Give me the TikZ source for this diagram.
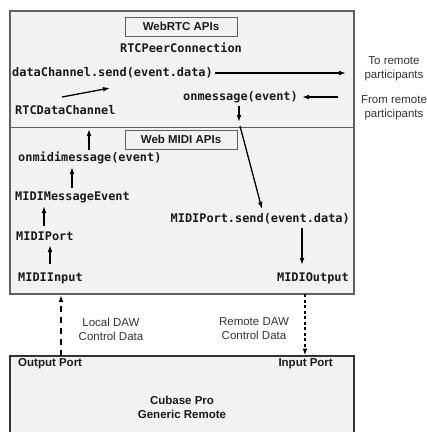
\documentclass[tikz,border=0pt]{standalone}
\usepackage{fontspec}
\setmainfont{Liberation Sans}
\newfontfamily\monob{DejaVu Sans Mono}
\usetikzlibrary{arrows.meta}
\definecolor{boxfill}{HTML}{F2F2F2}
\definecolor{boxline}{HTML}{606060}
\definecolor{txt}{HTML}{1A1A1A}
\definecolor{stxt}{HTML}{333333}
\begin{document}
\begin{tikzpicture}[x=1pt,y=-1pt,
  code/.style={font=\monob\bfseries\fontsize{11.9}{13}\selectfont, text=txt, inner sep=0pt},
  lbl/.style={font=\fontsize{11.5}{14}\selectfont, text=stxt, align=center, inner sep=0pt},
  blbl/.style={font=\bfseries\fontsize{11.5}{14}\selectfont, text=txt, align=center, inner sep=0pt},
  apibox/.style={draw=boxline, line width=0.8pt, fill=boxfill},
  arr/.style={line width=1.3pt, -{Latex[length=7pt,width=4.8pt]}},
  longdash/.style={line width=1.4pt, dash pattern=on 6pt off 5pt, -{Latex[length=7pt,width=4.8pt]}},
  shortdash/.style={line width=1.4pt, dash pattern=on 3pt off 2.5pt, -{Latex[length=7pt,width=4.8pt]}}]
\useasboundingbox (0,0) rectangle (427,432);
% boxes
\fill[boxfill] (10,11) rectangle (354,294);
\draw[boxline, line width=1pt] (10,127) -- (354,127);
\draw[boxline, line width=1.1pt] (10,11) rectangle (354,294);
\fill[boxfill] (10,356) rectangle (354,440);
\draw[black!80, line width=1.5pt] (10,356) rectangle (354,440);
\node[apibox, minimum width=112pt, minimum height=19pt, blbl] (webrtc) at (181,26.5) {WebRTC APIs};
\node[apibox, minimum width=112pt, minimum height=19pt, blbl] (webmidi) at (181,139.5) {Web MIDI APIs};
% texts
\node[code] (rtcpc) at (181,48) {RTCPeerConnection};
\node[code, anchor=west] (dcs) at (12,73) {dataChannel.send(event.data)};
\node[code, anchor=west] (rtcdc) at (15,110) {RTCDataChannel};
\node[code, anchor=west] (onmsg) at (183,97) {onmessage(event)};
\node[code, anchor=west] (onmidi) at (18,158) {onmidimessage(event)};
\node[code, anchor=west] (mme) at (15,197) {MIDIMessageEvent};
\node[code, anchor=west] (mport) at (16,236) {MIDIPort};
\node[code, anchor=west] (minput) at (18,278) {MIDIInput};
\node[code, anchor=east] (mpsend) at (350,219) {MIDIPort.send(event.data)};
\node[code, anchor=east] (mout) at (349,278) {MIDIOutput};
\node[lbl] (tor) at (394,69) {To remote\\participants};
\node[lbl] (fromr) at (394,108) {From remote\\participants};
\node[lbl] (local) at (111,329) {Local DAW\\Control Data};
\node[lbl] (remote) at (254,329) {Remote DAW\\Control Data};
\node[blbl, anchor=west] (outp) at (18,364) {Output Port};
\node[blbl, anchor=east] (inp) at (333,364) {Input Port};
\node[blbl] (cubase) at (182,407) {Cubase Pro\\Generic Remote};
% coordinates
\coordinate (sendend) at (346,73);
\coordinate (dcA) at (62,97);
\coordinate (dcB) at (110,88);
\coordinate (fromA) at (338,97);
\coordinate (fromB) at (302,97);
\coordinate (omA) at (239,106);
\coordinate (omB) at (239,122);
\coordinate (divA) at (240,126);
\coordinate (divB) at (262,209);
\coordinate (midiA) at (89,150);
\coordinate (midiB) at (89,129);
\coordinate (mmeA) at (72,188);
\coordinate (mmeB) at (72,167);
\coordinate (mpA) at (44,226);
\coordinate (mpB) at (44,206);
\coordinate (miA) at (50,264);
\coordinate (miB) at (50,245);
\coordinate (psA) at (302,228);
\coordinate (psB) at (302,265);
\coordinate (opA) at (61,356);
\coordinate (opB) at (61,295);
\coordinate (ipA) at (305,294);
\coordinate (ipB) at (305,355.5);
% connectors
\draw[arr] (dcs.east) ++(2,0) -- (sendend);
\draw[arr] (dcA) -- (dcB);
\draw[arr] (fromA) -- (fromB);
\draw[arr] (omA) -- (omB);
\draw[arr] (divA) -- (divB);
\draw[arr] (midiA) -- (midiB);
\draw[arr] (mmeA) -- (mmeB);
\draw[arr] (mpA) -- (mpB);
\draw[arr] (miA) -- (miB);
\draw[arr] (psA) -- (psB);
\draw[longdash] (opA) -- (opB);
\draw[shortdash] (ipA) -- (ipB);
\end{tikzpicture}
\end{document}
